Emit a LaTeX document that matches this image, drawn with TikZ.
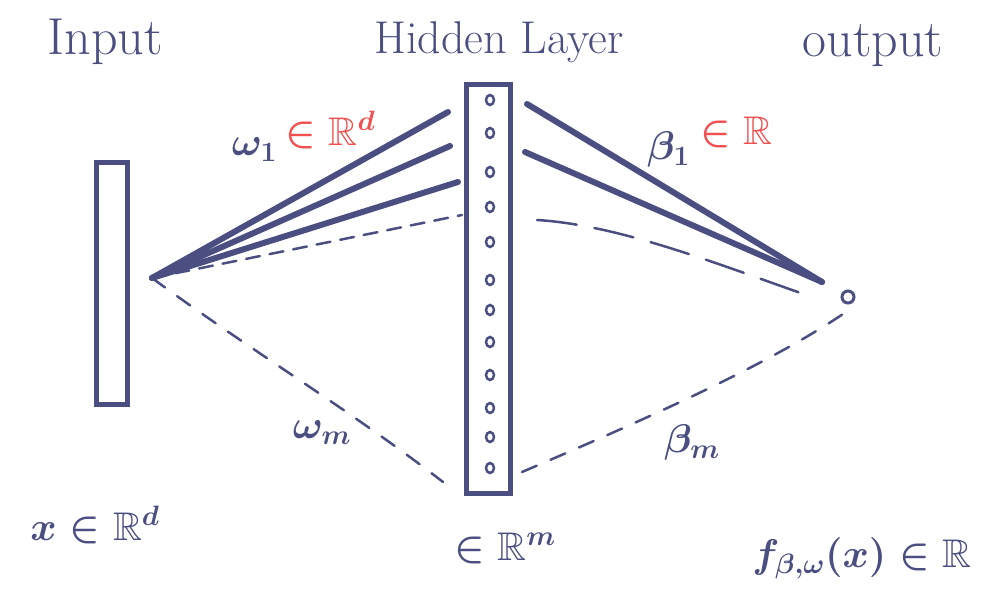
\RequirePackage{fix-cm}
\documentclass[tikz,border=0pt]{standalone}
\usepackage{amssymb}
\definecolor{ink}{HTML}{4A4E80}
\definecolor{redink}{HTML}{F05050}
\usetikzlibrary{shapes.geometric}
\tikzset{
  box/.style={draw=ink, line width=5pt},
  solidw/.style={draw=ink, line width=6pt, line cap=round},
  fined/.style={draw=ink, line width=2.5pt, dash pattern=on 14pt off 10pt, line cap=round},
  lowd/.style={draw=ink, line width=2.5pt, dash pattern=on 16pt off 15pt, line cap=round},
  longd/.style={draw=ink, line width=2.5pt, dash pattern=on 40pt off 18pt, line cap=round},
  unit/.style={draw=ink, line width=2.5pt, ellipse, minimum width=8pt, minimum height=10pt, inner sep=0pt},
  lbl/.style={text=ink, font=\fontsize{52}{58}\selectfont, inner sep=0pt},
  mlbl/.style={text=ink, font=\fontsize{40}{46}\selectfont\boldmath, inner sep=0pt},
}
\begin{document}
\begin{tikzpicture}[x=1pt,y=-1pt]
\useasboundingbox (0,0) rectangle (982,612);
% titles
\node[lbl] (tin) at (105,42) {Input};
\node[lbl, font=\fontsize{46}{52}\selectfont] (thid) at (499,42) {Hidden Layer};
\node[lbl] (tout) at (873,46) {output};
% rectangles
\node[box, minimum width=31pt, minimum height=241pt, inner sep=0pt] (inbox) at (111.5,283.5) {};
\node[box, minimum width=44pt, minimum height=408pt, inner sep=0pt] (hidbox) at (488,289) {};
% hidden units
\foreach \y [count=\i] in {100,133,172,207,242,280,310,342,375,408,437,468}
  \node[unit] (h\i) at (490,\y) {};
% input point and output unit
\coordinate (xin) at (152,278);
\node[draw=ink, line width=3pt, circle, minimum size=12pt, inner sep=0pt] (yout) at (848,297) {};
% line end coordinates
\coordinate (a1) at (448,112);
\coordinate (a2) at (450,146);
\coordinate (a3) at (458,182);
\coordinate (a4) at (462,215);
\coordinate (am) at (443,482);
\coordinate (b1) at (527,104);
\coordinate (b2) at (525,152);
\coordinate (b3) at (537,220);
\coordinate (bm) at (522,472);
\coordinate (o1) at (822,282);
\coordinate (o3) at (812,297);
\coordinate (om) at (843,314);
% input -> hidden
\draw[solidw] (xin) -- (a1);
\draw[solidw] (xin) -- (a2);
\draw[solidw] (xin) -- (a3);
\draw[fined] (xin) -- (a4);
\draw[lowd] (xin) .. controls (250,350) and (350,410) .. (am);
% hidden -> output
\draw[solidw] (b1) -- (o1);
\draw[solidw] (b2) -- (o1);
\draw[longd] (b3) .. controls (620,225) and (720,265) .. (o3);
\draw[lowd] (bm) .. controls (620,430) and (760,370) .. (om);
% weight labels
\node[mlbl, anchor=east] (w1) at (277,150) {$\omega_{1}$};
\node[mlbl, text=redink, anchor=west] (w1r) at (285,130) {$\in\mathbb{R}^{d}$};
\node[mlbl] (wm) at (322,433) {$\omega_{m}$};
\node[mlbl, anchor=east] (b1l) at (690,150) {$\beta_{1}$};
\node[mlbl, text=redink, anchor=west] (b1r) at (700,132) {$\in\mathbb{R}$};
\node[mlbl] (bml) at (692,442) {$\beta_{m}$};
% space labels
\node[mlbl] (xl) at (95,525) {$x\in\mathbb{R}^{d}$};
\node[mlbl] (hl) at (505,548) {$\in\mathbb{R}^{m}$};
\node[mlbl] (fl) at (862,558) {$f_{\beta,\omega}(x)\in\mathbb{R}$};
\end{tikzpicture}
\end{document}
